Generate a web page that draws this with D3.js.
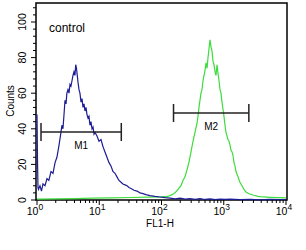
<!DOCTYPE html>
<html><head><meta charset="utf-8">
<script src="https://cdn.jsdelivr.net/npm/d3@7"></script>
<style>html,body{margin:0;padding:0;background:#fff;}svg{display:block;font-family:"Liberation Sans",Arial,sans-serif;}</style>
</head><body>
<script>
// FL1-H positions stored as log10 exponents, counts
const controlExp = [0,0.008,0.016,0.024,0.048,0.072,0.096,0.129,0.16,0.19,0.225,0.257,0.29,0.32,0.35,0.385,0.40,0.417,0.434,0.45,0.466,0.48,0.498,0.514,0.53,0.546,0.562,0.578,0.594,0.61,0.622,0.634,0.65,0.659,0.675,0.69,0.707,0.723,0.739,0.755,0.771,0.787,0.803,0.82,0.835,0.851,0.867,0.884,0.9,0.916,0.932,0.964,0.996,1.028,1.06,1.092,1.124,1.157,1.19,1.22,1.253,1.285,1.317,1.35,1.38,1.414,1.446,1.478,1.51,1.558,1.606,1.655,1.703,1.75,1.815,1.896,1.976,2.056,2.137,2.22,2.3,2.38,2.46,2.54,2.62,2.7,2.78,2.86,2.94,3.02,3.1,3.26,3.42,3.58,3.74,3.87,4];
const controlCounts = [48,22,7,6,8,5,9,8,12,11,16,15,21,24,30,38,42,40,48,56,54,60,62,60,65,64,67,70,72,70,76,74,69,66,62,60,55,57,52,54,50,52,48,46,47,42,44,40,41,37,38,36,33,34,30,27,24,21,19,16,15,13,11,10,9,8.5,8,7,6.5,5.5,5,4,3.6,3,2.5,2,1.7,1.3,1.1,0.6,1,0.5,0.8,0.4,0.8,0.3,0.6,0.2,0.5,0.3,0.5,0.2,0.3,0.1,0.3,0.2,0.2];

const sampleExp = [0,0.3,0.6,0.9,1.2,1.5,1.8,2.0,2.1,2.17,2.217,2.265,2.313,2.345,2.377,2.41,2.44,2.474,2.506,2.538,2.57,2.586,2.602,2.618,2.634,2.65,2.667,2.683,2.7,2.715,2.731,2.747,2.763,2.779,2.795,2.81,2.827,2.843,2.86,2.875,2.892,2.908,2.924,2.94,2.956,2.972,2.988,3.004,3.02,3.036,3.052,3.068,3.084,3.1,3.116,3.133,3.149,3.165,3.181,3.197,3.23,3.26,3.293,3.325,3.357,3.406,3.47,3.55,3.63,3.74,3.87,4];
const sampleCounts = [0.5,0.6,0.8,1,1.2,1.4,1.6,1.8,2,3,4,6,8,11,13,17,21,27,33,38,43,47,52,56,60,62,67,70,73,77,74,80,85,90,86,84,78,76,72,70,76,71,67,62,60,55,51,47,42,38,36,34,33,31,28,27,25,21,19,16,13,10,8,6,4.5,3.5,2.8,2,1.7,1.5,1.3,1.2];

const yTicks = [0,20,40,60,80,100];
const xDecades = [1,10,100,1000,10000];
const markers = [{name:"M1", lo:1.16, hi:22.6}, {name:"M2", lo:156, hi:2530}];
const sampleLabel = "control";

const W=306,H=250;
const svg=d3.select("body").append("svg").attr("width",W).attr("height",H);
const x=d3.scaleLog().domain([1,1e4]).range([37,286]);
const y=d3.scaleLinear().domain([0,100]).range([200,22]);

// frame
svg.append("rect").attr("x",36).attr("y",3).attr("width",251).attr("height",197)
  .attr("fill","none").attr("stroke","#000").attr("stroke-width",1.5);

const line=d3.line().x(d=>x(Math.pow(10,d[0]))).y(d=>y(d[1]));
svg.append("path").datum(sampleExp.map((e,i)=>[e,sampleCounts[i]]))
  .attr("d",line).attr("fill","none").attr("stroke","#3cdc3c").attr("stroke-width",1.2);
svg.append("path").datum(controlExp.map((e,i)=>[e,controlCounts[i]]))
  .attr("d",line).attr("fill","none").attr("stroke","#1c1c96").attr("stroke-width",1.2);

// y axis ticks
const yMinor=d3.range(0,112,4);
svg.append("g").selectAll("line").data(yMinor).join("line")
  .attr("x1",36).attr("x2",d=>yTicks.includes(d)?31:33)
  .attr("y1",d=>y(d)).attr("y2",d=>y(d)).attr("stroke","#000").attr("stroke-width",1);
svg.append("g").selectAll("text").data(yTicks).join("text")
  .attr("transform",d=>`translate(26,${y(d)}) rotate(-90)`)
  .attr("text-anchor","middle").attr("font-size",10.5).text(d=>d);
svg.append("text").attr("transform","translate(14,101) rotate(-90)")
  .attr("text-anchor","middle").attr("font-size",10).text("Counts");

// x axis ticks
const xMinor=[];
xDecades.slice(0,-1).forEach(dv=>{for(let k=2;k<10;k++)xMinor.push(dv*k);});
svg.append("g").selectAll("line").data(xMinor).join("line")
  .attr("x1",d=>x(d)).attr("x2",d=>x(d)).attr("y1",200).attr("y2",203)
  .attr("stroke","#000").attr("stroke-width",1);
svg.append("g").selectAll("line").data(xDecades).join("line")
  .attr("x1",d=>x(d)).attr("x2",d=>x(d)).attr("y1",200).attr("y2",205)
  .attr("stroke","#000").attr("stroke-width",1);
const xl=svg.append("g").selectAll("text").data(xDecades).join("text")
  .attr("x",d=>x(d)-2).attr("y",215).attr("text-anchor","middle").attr("font-size",10.5);
xl.append("tspan").text("10");
xl.append("tspan").attr("dy",-5).attr("font-size",8.5).text(d=>Math.round(Math.log10(d)));
svg.append("text").attr("x",160).attr("y",227).attr("text-anchor","middle").attr("font-size",10).text("FL1-H");

// label
svg.append("text").attr("x",49).attr("y",32).attr("font-size",12).text(sampleLabel);

// markers
const my={M1:132,M2:113};
markers.forEach(m=>{
  const g=svg.append("g").attr("stroke","#222").attr("stroke-width",1.5);
  const yy=my[m.name];
  g.append("line").attr("x1",x(m.lo)).attr("x2",x(m.hi)).attr("y1",yy).attr("y2",yy);
  g.append("line").attr("x1",x(m.lo)).attr("x2",x(m.lo)).attr("y1",yy-9).attr("y2",yy+9);
  g.append("line").attr("x1",x(m.hi)).attr("x2",x(m.hi)).attr("y1",yy-9).attr("y2",yy+9);
  svg.append("text").attr("x",x(Math.sqrt(m.lo*m.hi))).attr("y",yy+17)
    .attr("text-anchor","middle").attr("font-size",10).text(m.name);
});
</script>
</body></html>
